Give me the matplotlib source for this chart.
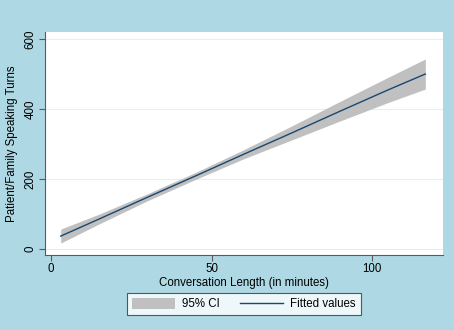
import matplotlib
matplotlib.use("Agg")
import matplotlib.pyplot as plt
from matplotlib.patches import Patch
from matplotlib.lines import Line2D

plt.rcParams["font.family"] = ["Liberation Sans", "DejaVu Sans"]

# Linear fit of speaking turns on conversation length, with 95% CI
minutes = [3, 15, 30, 45, 60, 75, 90, 105, 116.5]
fitted = [37, 86, 148, 209, 271, 332, 394, 455, 500]
ci_low = [17, 72, 138, 199, 258, 312, 366, 419, 457]
ci_high = [57, 100, 158, 219, 284, 352, 422, 491, 543]

x_ticks = [0, 50, 100]
y_ticks = [0, 200, 400, 600]

BG = "#afd8e5"
BAND = "#c0c0c0"
NAVY = "#1a476f"
GRID = "#e6f0f2"
AXIS = "#5a5a5a"
FS = 8.3

fig = plt.figure(figsize=(4.54, 3.30), dpi=100, facecolor=BG)
ax = fig.add_axes([45 / 454, 75 / 330, 398 / 454, 223 / 330])
ax.set_facecolor("white")

ax.fill_between(minutes, ci_low, ci_high, color=BAND, linewidth=0, zorder=2)
ax.plot(minutes, fitted, color=NAVY, linewidth=1.0, zorder=3)

ax.set_xlim(-1.9, 122)
ax.set_ylim(-17, 620)
ax.set_xticks(x_ticks)
ax.set_yticks(y_ticks)
ax.set_yticklabels([str(t) for t in y_ticks], rotation=90, va="center")
ax.grid(axis="y", color=GRID, linewidth=0.8, zorder=0)
ax.set_axisbelow(True)

for side in ["top", "right"]:
    ax.spines[side].set_visible(False)
for side in ["left", "bottom"]:
    ax.spines[side].set_color(AXIS)
    ax.spines[side].set_linewidth(0.8)
ax.tick_params(colors="black", labelsize=FS, length=4, width=0.8,
               direction="out", pad=2)
ax.tick_params(axis="both", color=AXIS)

ax.set_xlabel("Conversation Length (in minutes)", fontsize=FS, labelpad=1)
ax.set_ylabel("Patient/Family Speaking Turns", fontsize=FS, labelpad=5)

handles = [Patch(facecolor=BAND, edgecolor="none"),
           Line2D([0], [0], color=NAVY, linewidth=1.0)]
leg = fig.legend(handles, ["95% CI", "Fitted values"], loc="upper left",
                 bbox_to_anchor=(127 / 454, 1 - 293 / 330), ncol=2,
                 fontsize=FS, frameon=True, fancybox=False,
                 handlelength=3.7, handleheight=1.0, handletextpad=0.6,
                 columnspacing=1.8, borderpad=0.45, borderaxespad=0)
leg.get_frame().set_edgecolor("#333333")
leg.get_frame().set_linewidth(0.8)
leg.get_frame().set_facecolor("white")

fig.savefig("out.png", dpi=100, facecolor=BG)
